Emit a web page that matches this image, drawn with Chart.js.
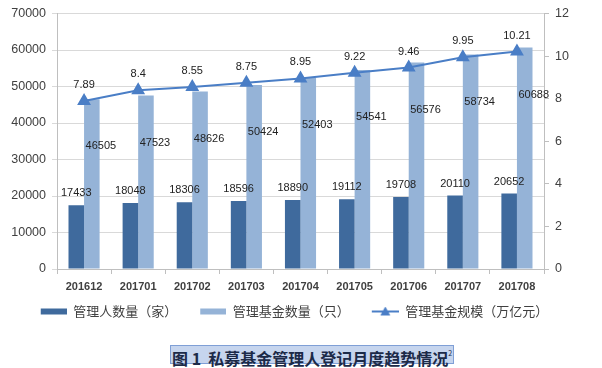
<!DOCTYPE html>
<html>
<head>
<meta charset="utf-8">
<script src="https://cdn.jsdelivr.net/npm/chart.js@4"></script>
<style>
  body { margin: 0; background: #fff; }
  #wrap { position: relative; width: 602px; height: 368px; }
  #box { position: absolute; left: 0; top: 0; width: 602px; height: 330px; }
  #title {
    position: absolute; left: 170px; top: 345px; height: 17px; line-height: 17px;
    padding: 0 1px 0 1px; background: #c6d5ee; border: 1px solid #7f9fd6;
    font: bold 16px "Noto Sans CJK SC", sans-serif; color: #1c2a48; white-space: nowrap;
  }
  #title sup { font-size: 7px; font-weight: normal; vertical-align: 9px; line-height: 0; }
</style>
</head>
<body>
<div id="wrap">
  <div id="box"><canvas id="chart"></canvas></div>
  <div id="title">图 1&nbsp;&nbsp;私募基金管理人登记月度趋势情况<sup>2</sup></div>
</div>
<script>
const months = ['201612', '201701', '201702', '201703', '201704', '201705', '201706', '201707', '201708'];
const managers = [17433, 18048, 18306, 18596, 18890, 19112, 19708, 20110, 20652];
const funds = [46505, 47523, 48626, 50424, 52403, 54541, 56576, 58734, 60688];
const scale = [7.89, 8.4, 8.55, 8.75, 8.95, 9.22, 9.46, 9.95, 10.21];
const seriesNames = ['管理人数量（家）', '管理基金数量（只）', '管理基金规模（万亿元）'];

const darkBlue = '#3f6a9d';
const lightBlue = '#95b3d7';
const lineBlue = '#4a7ec6';
const gridGray = '#d9d9d9';
const axisGray = '#bfbfbf';

// small canvases used as legend markers (left part left blank as spacing)
function marker(kind, color) {
  const c = document.createElement('canvas');
  c.width = 39; c.height = 10;
  const g = c.getContext('2d');
  g.fillStyle = color; g.strokeStyle = color;
  if (kind === 'bar') {
    g.fillRect(13, 2, 26, 6);
  } else {
    g.lineWidth = 2;
    g.beginPath(); g.moveTo(12, 5); g.lineTo(39, 5); g.stroke();
    g.beginPath(); g.moveTo(25.5, 0); g.lineTo(30.5, 9); g.lineTo(20.5, 9); g.closePath(); g.fill();
  }
  return c;
}

const valueLabels = {
  id: 'valueLabels',
  afterDatasetsDraw(chart) {
    const ctx = chart.ctx;
    ctx.save();
    ctx.fillStyle = '#222';
    ctx.font = '11px "Liberation Sans", Arial, sans-serif';
    ctx.textAlign = 'center';
    ctx.textBaseline = 'middle';
    chart.data.datasets.forEach((ds, i) => {
      const meta = chart.getDatasetMeta(i);
      meta.data.forEach((el, j) => {
        const v = ds.data[j];
        if (i === 0) ctx.fillText(v, el.x, el.y - 12);
        else if (i === 1) ctx.fillText(v, el.x + 9, el.y + 47);
        else ctx.fillText(v, el.x, el.y - 16);
      });
    });
    ctx.restore();
  }
};

new Chart(document.getElementById('chart'), {
  type: 'bar',
  data: {
    labels: months,
    datasets: [
      { label: seriesNames[0], data: managers, backgroundColor: darkBlue, yAxisID: 'y', order: 1,
        categoryPercentage: 0.575, barPercentage: 1 },
      { label: seriesNames[1], data: funds, backgroundColor: lightBlue, yAxisID: 'y', order: 1,
        categoryPercentage: 0.575, barPercentage: 1 },
      { type: 'line', label: seriesNames[2], data: scale, yAxisID: 'y1', order: 0,
        borderColor: lineBlue, backgroundColor: lineBlue, borderWidth: 2,
        pointStyle: 'triangle', pointRadius: 6, pointHoverRadius: 6, tension: 0 }
    ]
  },
  options: {
    responsive: true,
    maintainAspectRatio: false,
    animation: false,
    // right padding only moves the legend left; the right axis width makes up for it
    layout: { padding: { top: 7, left: 0, right: 26, bottom: 2 } },
    plugins: {
      tooltip: { enabled: false },
      legend: {
        position: 'bottom',
        labels: {
          usePointStyle: true,
          pointStyleWidth: 39,
          boxHeight: 10,
          padding: 10,
          color: '#404040',
          font: { family: '"Noto Sans CJK SC", sans-serif', size: 13 },
          generateLabels(chart) {
            return chart.data.datasets.map((ds, i) => ({
              text: ds.label,
              datasetIndex: i,
              pointStyle: marker(i === 2 ? 'line' : 'bar', ds.backgroundColor),
              fillStyle: ds.backgroundColor,
              strokeStyle: ds.backgroundColor,
              lineWidth: 0,
              fontColor: '#404040',
              hidden: false
            }));
          }
        }
      }
    },
    scales: {
      x: {
        grid: { offset: true, drawOnChartArea: false, color: axisGray, tickLength: 5 },
        border: { color: axisGray },
        ticks: { color: '#404040', padding: 6, font: { family: '"Liberation Sans", Arial', size: 11, weight: 'bold' } },
        afterFit(s) { s.height = 26; }
      },
      y: {
        position: 'left',
        min: 0, max: 70000,
        ticks: { stepSize: 10000, color: '#404040', padding: 6, callback: v => String(v),
          font: { family: '"Liberation Sans", Arial', size: 12.5 } },
        grid: { color: gridGray, tickLength: 5 },
        border: { color: axisGray },
        afterFit(s) { s.width = 57; }
      },
      y1: {
        position: 'right',
        min: 0, max: 12,
        ticks: { stepSize: 2, color: '#404040', padding: 6, callback: v => String(v),
          font: { family: '"Liberation Sans", Arial', size: 12.5 } },
        grid: { drawOnChartArea: false, color: axisGray, tickLength: 5 },
        border: { color: axisGray },
        afterFit(s) { s.width = 32; }
      }
    }
  },
  plugins: [valueLabels]
});
</script>
</body>
</html>
